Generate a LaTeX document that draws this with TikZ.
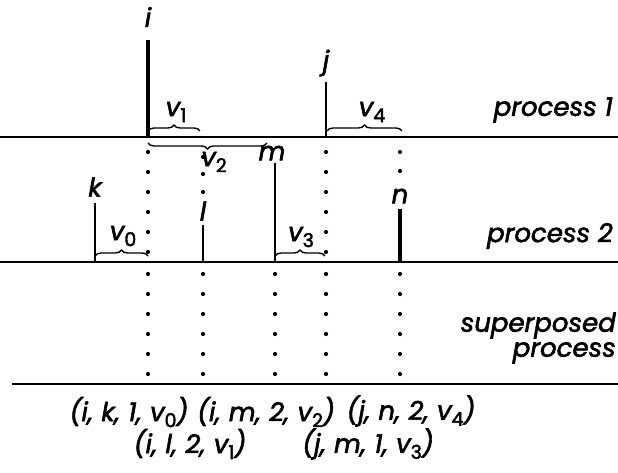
\documentclass[tikz,border=0pt]{standalone}
\usepackage{fontspec}
\setmainfont{Poppins}[FakeBold=2.2]
\usetikzlibrary{decorations.pathreplacing}

\newcommand{\lowidx}[1]{\raisebox{-6pt}{\fontsize{19}{19}\selectfont\upshape #1}}
\newcommand{\csep}{,\hspace{0.32em}}

\begin{document}
\begin{tikzpicture}[
    x=1pt, y=-1pt,
    every node/.style={font=\fontsize{26}{25}\selectfont\itshape, inner sep=0pt},
    axis/.style={line width=2.8pt},
    tick/.style={line width=2.8pt},
    brc/.style={decorate, decoration={brace, amplitude=6pt}, line width=1.4pt},
    lbl/.style={anchor=east},
]
\useasboundingbox (0,0) rectangle (618,473);

% ── Time axes ────────────────────────────────────────────────────────────────
\coordinate (p1w) at (0,137);   \coordinate (p1e) at (618,137);
\coordinate (p2w) at (0,262);   \coordinate (p2e) at (618,262);
\coordinate (spw) at (12,384);  \coordinate (spe) at (618,384);
\draw[axis] (p1w) -- (p1e);
\draw[axis] (p2w) -- (p2e);
\draw[axis] (spw) -- (spe);

\node[lbl] (proc1) at (613,110) {process 1};
\node[lbl] (proc2) at (613,236) {process 2};
\node[lbl, align=right] (supp) at (616,338) {superposed\\process};

% ── Events of process 1 ──────────────────────────────────────────────────────
\coordinate (ei) at (148,137);
\coordinate (ej) at (326,137);
\node (ilab) at (148,17) {i};
\node (jlab) at (326,63) {j};
\draw[tick, line width=3.6pt] (ei) -- ++(0,-97);
\draw[tick] (ej) -- ++(0,-55);

% ── Events of process 2 ──────────────────────────────────────────────────────
\coordinate (ek) at (95,262);
\coordinate (el) at (203,262);
\coordinate (em) at (275,262);
\coordinate (en) at (400,262);
\node (klab) at (95,187) {k};
\node (llab) at (203,211) {l};
\node (mlab) at (272,153) {m};
\node (nlab) at (400,196) {n};
\draw[tick] (ek) -- ++(0,-59);
\draw[tick] (el) -- ++(0,-37);
\draw[tick] (em) -- ++(0,-99);
\draw[tick, line width=3.4pt] (en) -- ++(0,-53);

% ── Intervals ────────────────────────────────────────────────────────────────
\draw[brc] (148,131) -- (200,131);
\node (v1) at (176,112) {v\lowidx{1}};
\draw[brc] (267,143) -- (148,143);
\node (v2) at (214,162) {v\lowidx{2}};
\draw[brc] (327,131) -- (402,131);
\node (v4) at (372,112) {v\lowidx{4}};
\draw[brc] (95,256) -- (148,256);
\node (v0) at (123,236) {v\lowidx{0}};
\draw[brc] (275,256) -- (325,256);
\node (v3) at (301,237) {v\lowidx{3}};

% ── Projections onto the superposed process ─────────────────────────────────
\foreach \x in {148,326} {
    \foreach \y in {152,172,...,252} \fill (\x,\y) circle (2.1pt);
}
\foreach \y in {157,174,192} \fill (203,\y) circle (2.1pt);
\foreach \y in {152,171} \fill (400,\y) circle (2.1pt);
\foreach \x in {148,203,275,326,400} {
    \foreach \y in {274,294,...,374} \fill (\x,\y) circle (2.1pt);
}

% ── Merged events ────────────────────────────────────────────────────────────
\node (mik) at (129,412) {(i\csep k\csep 1\csep v\lowidx{0})};
\node (mim) at (266,412) {(i\csep m\csep 2\csep v\lowidx{2})};
\node (mjn) at (411,411) {(j\csep n\csep 2\csep v\lowidx{4})};
\node (mil) at (190,444) {(i\csep l\csep 2\csep v\lowidx{1})};
\node (mjm) at (368,444) {(j\csep m\csep 1\csep v\lowidx{3})};

\end{tikzpicture}
\end{document}
